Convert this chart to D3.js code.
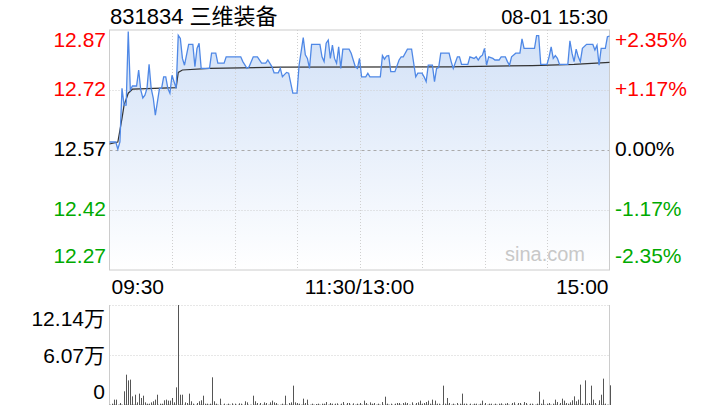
<!DOCTYPE html>
<html><head><meta charset="utf-8">
<script src="https://cdn.jsdelivr.net/npm/d3@7/dist/d3.min.js"></script>
<style>
html,body{margin:0;padding:0;background:#fff;}
svg{display:block;font-family:"Liberation Sans",Arial,"Noto Sans CJK SC",sans-serif;}
</style></head>
<body><svg id="c" width="720" height="420"></svg>
<script>
const title = "831834 三维装备";
const stamp = "08-01 15:30";
const preClose = 12.57;
const priceTicks = [12.87, 12.72, 12.57, 12.42, 12.27];
const priceTickLabels = ["12.87", "12.72", "12.57", "12.42", "12.27"];
const pctTickLabels = ["+2.35%", "+1.17%", "0.00%", "-1.17%", "-2.35%"];
const timeTicks = [0, 120, 240];
const timeTickLabels = ["09:30", "11:30/13:00", "15:00"];
const volTicks = [12.14, 6.07, 0];
const volTickLabels = ["12.14万", "6.07万", "0"];

// minutes since 09:30 (trading minutes, 0..240) and price
const priceT = [0,3,4,5,6,7,8,9,10,11,13,14,15,16,17,18,19,20,21,22,24,25,26,27,28,29,30,32,33,34,35,36,38,40,41,42,43,44,48,49,51,52,55,56,63,64,66,67,69,71,73,75,76,78,79,81,82,83,85,86,88,90,91,93,94,95,96,97,101,102,103,104,105,106,107,108,109,110,111,112,115,116,118,119,120,121,123,124,125,130,131,132,133,134,135,137,139,140,141,143,145,147,148,150,151,152,153,155,156,157,158,159,163,164,165,167,168,169,172,173,175,176,177,178,179,180,181,182,184,185,187,188,190,191,192,193,195,197,198,199,204,205,206,207,210,211,212,213,214,215,216,220,221,222,223,224,225,226,227,229,232,233,234,235,236,238,239,240];
const priceV = [12.59,12.59,12.572,12.59,12.724,12.682,12.682,12.866,12.72,12.73,12.73,12.77,12.72,12.70,12.707,12.724,12.784,12.724,12.70,12.657,12.724,12.724,12.753,12.753,12.724,12.712,12.757,12.724,12.857,12.849,12.799,12.782,12.834,12.834,12.778,12.824,12.837,12.774,12.774,12.812,12.812,12.787,12.787,12.803,12.803,12.791,12.774,12.778,12.803,12.803,12.787,12.787,12.795,12.778,12.763,12.763,12.774,12.753,12.764,12.762,12.712,12.712,12.782,12.851,12.808,12.799,12.774,12.834,12.834,12.803,12.791,12.837,12.845,12.799,12.832,12.799,12.787,12.828,12.774,12.822,12.822,12.812,12.778,12.774,12.799,12.753,12.753,12.762,12.753,12.753,12.806,12.797,12.805,12.806,12.766,12.766,12.795,12.803,12.803,12.822,12.822,12.753,12.762,12.762,12.753,12.741,12.782,12.782,12.741,12.774,12.776,12.812,12.812,12.791,12.774,12.803,12.803,12.784,12.784,12.803,12.799,12.803,12.795,12.803,12.807,12.824,12.782,12.803,12.799,12.795,12.795,12.803,12.803,12.791,12.782,12.803,12.812,12.812,12.848,12.824,12.824,12.856,12.856,12.784,12.784,12.803,12.828,12.799,12.806,12.799,12.784,12.784,12.843,12.812,12.791,12.822,12.803,12.791,12.824,12.834,12.834,12.82,12.832,12.782,12.824,12.824,12.853,12.855];

// average price line
const avgT = [0,4,6,7,9,11,32,33,35,48,82,163,203,223,240];
const avgV = [12.585,12.59,12.649,12.682,12.712,12.722,12.726,12.764,12.77,12.774,12.777,12.778,12.781,12.784,12.789];

// volume (万股)
const volT = [1,2,3,5,7,8,9,10,11,12,13,14,15,16,17,18,19,20,21,22,23,24,25,26,27,28,29,30,31,32,33,34,35,36,37,38,39,40,42,43,44,45,46,47,48,49,50,51,53,55,57,59,60,62,63,65,66,69,70,71,72,74,75,77,78,79,80,83,84,86,87,88,89,90,91,93,94,95,97,99,100,102,103,104,106,107,108,109,111,112,114,115,117,119,120,122,123,125,126,127,129,131,132,133,135,137,138,139,141,142,143,145,147,148,149,150,151,152,153,154,155,156,157,158,160,161,162,163,165,167,168,169,170,171,173,175,176,178,179,180,182,183,185,187,188,190,191,193,194,196,197,199,200,202,203,205,206,207,208,210,211,213,214,215,216,217,218,219,220,221,222,223,224,225,226,227,228,229,230,231,232,233,235,236,237,238,240];
const volV = [0.16,0.65,0.65,0.24,1.66,3.68,2.99,3.08,1.05,1.25,0.32,1.38,0.85,1.13,0.32,0.16,0.16,0.32,0.45,0.65,1.25,0.16,0.16,0.57,0.65,0.53,0.53,0.85,0.32,2.14,12.14,1.25,1.25,0.32,0.24,1.38,0.45,0.16,0.24,0.45,0.57,1.13,0.16,0.16,0.16,3.36,0.45,0.16,0.77,0.16,0.16,0.20,0.16,0.20,0.16,0.45,0.32,1.13,0.45,0.24,0.24,0.32,0.24,0.32,0.53,0.32,0.24,0.16,1.13,0.24,0.32,2.35,0.32,0.24,0.16,0.77,0.24,0.65,0.16,0.12,0.16,0.16,0.16,0.36,0.24,0.16,0.16,0.20,0.16,0.36,0.24,0.24,0.20,0.16,0.24,0.53,0.24,0.32,0.16,0.24,0.16,0.36,1.01,0.16,0.16,0.16,0.24,0.24,0.24,0.32,0.24,0.32,0.24,0.32,0.53,0.16,0.24,0.36,0.53,0.16,0.65,0.53,0.16,0.16,2.35,0.16,0.85,0.24,0.16,0.24,0.16,1.38,0.16,0.16,0.16,0.16,0.16,0.16,0.53,0.24,0.16,0.16,0.16,0.16,0.20,0.16,0.24,0.24,0.32,0.24,0.24,0.36,0.24,0.16,0.16,0.16,1.62,0.16,0.65,0.16,0.24,0.16,0.65,0.36,0.24,0.77,0.53,0.24,0.16,0.32,0.57,1.05,0.45,0.65,2.47,0.16,2.99,0.16,0.24,2.35,0.65,0.24,0.57,1.25,3.20,0.16,2.39];

const RED = "#f00", GREEN = "#0a0", BLACK = "#000";
const tickColors = [RED, RED, BLACK, GREEN, GREEN];

const svg = d3.select("#c");
const L = 109.5, R = 609.5, T = 30, B = 270, VT = 305, VB = 405;

const x = d3.scaleLinear().domain([0, 240]).range([L, R]);
const y = d3.scaleLinear().domain([12.27, 12.87]).range([B, T]);
const yv = d3.scaleLinear().domain([0, 12.14]).range([VB, VT]);

// gradient
const defs = svg.append("defs");
const grad = defs.append("linearGradient").attr("id", "g").attr("gradientUnits", "userSpaceOnUse")
  .attr("x1", 0).attr("x2", 0).attr("y1", T).attr("y2", B);
grad.append("stop").attr("offset", 0).attr("stop-color", "#d2e1f7");
grad.append("stop").attr("offset", 1).attr("stop-color", "#ffffff");

// title
svg.append("text").attr("x", 110).attr("y", 24).attr("font-size", 22).attr("fill", "#000").text(title);
svg.append("text").attr("x", 608).attr("y", 24).attr("font-size", 20).attr("text-anchor", "end").attr("fill", "#000").text(stamp);

// area
const pts = priceT.map((t, i) => [t, priceV[i]]);
svg.append("path").datum(pts)
  .attr("d", d3.area().x(d => x(d[0])).y0(B).y1(d => y(d[1])))
  .attr("fill", "url(#g)");

// grid
const vgrid = d3.range(1, 8).map(i => i * 30);
svg.append("g").selectAll("line").data(vgrid).join("line")
  .attr("x1", d => Math.round(x(d)) + 0.5).attr("x2", d => Math.round(x(d)) + 0.5)
  .attr("y1", T).attr("y2", B).attr("stroke", "#cfcfcf").attr("stroke-dasharray", "1,2");
svg.append("g").selectAll("line").data(priceTicks.slice(1, 4)).join("line")
  .attr("x1", L).attr("x2", R)
  .attr("y1", d => Math.round(y(d)) + 0.5).attr("y2", d => Math.round(y(d)) + 0.5)
  .attr("stroke", d => d === preClose ? "#aaa" : "#cfcfcf")
  .attr("stroke-dasharray", d => d === preClose ? "3,3" : "1,2");

// border
svg.append("rect").attr("x", L).attr("y", T).attr("width", R - L).attr("height", B - T)
  .attr("fill", "none").attr("stroke", "#ccc");

// watermark
svg.append("text").attr("x", 585).attr("y", 261).attr("text-anchor", "end").attr("font-size", 20)
  .attr("fill", "#c8c8c8").text("sina.com");

// avg line
svg.append("path").datum(avgT.map((t, i) => [t, avgV[i]]))
  .attr("d", d3.line().x(d => x(d[0])).y(d => y(d[1])))
  .attr("fill", "none").attr("stroke", "#333").attr("stroke-width", 1.2);

// price line
svg.append("path").datum(pts)
  .attr("d", d3.line().x(d => x(d[0])).y(d => y(d[1])))
  .attr("fill", "none").attr("stroke", "#4f88e6").attr("stroke-width", 1.3);

// price axis labels
const dyP = [17, 6, 6, 6, -7];
svg.append("g").selectAll("text").data(priceTicks).join("text")
  .attr("x", 106).attr("y", (d, i) => y(d) + dyP[i]).attr("text-anchor", "end")
  .attr("font-size", 21).attr("fill", (d, i) => tickColors[i]).text((d, i) => priceTickLabels[i]);
svg.append("g").selectAll("text").data(priceTicks).join("text")
  .attr("x", 615).attr("y", (d, i) => y(d) + dyP[i]).attr("text-anchor", "start")
  .attr("font-size", 21).attr("fill", (d, i) => tickColors[i]).text((d, i) => pctTickLabels[i]);

// time labels
const anchors = ["start", "middle", "end"];
const dxT = [2, 0, -1];
svg.append("g").selectAll("text").data(timeTicks).join("text")
  .attr("x", (d, i) => x(d) + dxT[i]).attr("y", 294).attr("text-anchor", (d, i) => anchors[i])
  .attr("font-size", 21).attr("fill", "#000").text((d, i) => timeTickLabels[i]);

// volume grid
svg.append("g").selectAll("line").data(volTicks.slice(0, 2)).join("line")
  .attr("x1", L).attr("x2", R).attr("y1", d => Math.round(yv(d)) + 0.5).attr("y2", d => Math.round(yv(d)) + 0.5)
  .attr("stroke", "#cfcfcf").attr("stroke-dasharray", "1,2");
svg.append("line").attr("x1", L).attr("x2", L).attr("y1", VT).attr("y2", VB).attr("stroke", "#ccc");
svg.append("line").attr("x1", R).attr("x2", R).attr("y1", VT).attr("y2", VB).attr("stroke", "#ccc");
svg.append("line").attr("x1", L).attr("x2", R).attr("y1", VB - 0.5).attr("y2", VB - 0.5)
  .attr("stroke", "#999").attr("stroke-dasharray", "1,2");

// volume bars
svg.append("g").selectAll("line").data(volT.map((t, i) => [t, volV[i]])).join("line")
  .attr("x1", d => Math.round(x(d[0])) + 0.5).attr("x2", d => Math.round(x(d[0])) + 0.5)
  .attr("y1", VB).attr("y2", d => yv(d[1])).attr("stroke", "#555").attr("stroke-width", 1);

// volume labels
const dyV = [21, 8, -6];
svg.append("g").selectAll("text").data(volTicks).join("text")
  .attr("x", 105).attr("y", (d, i) => yv(d) + dyV[i]).attr("text-anchor", "end")
  .attr("font-size", 21).attr("fill", "#000").text((d, i) => volTickLabels[i]);
</script></body></html>
